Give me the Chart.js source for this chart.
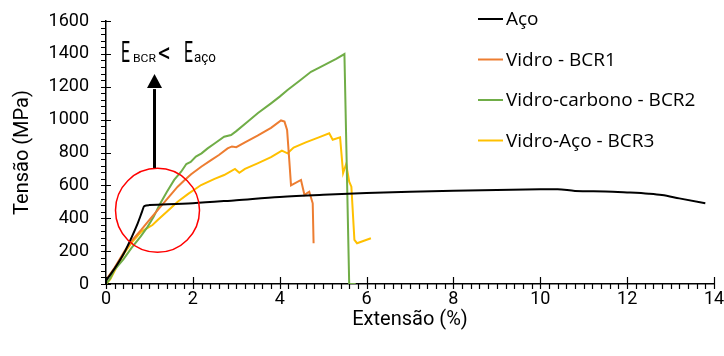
<!DOCTYPE html>
<html>
<head>
<meta charset="utf-8">
<script src="https://cdn.jsdelivr.net/npm/chart.js@4"></script>
<style>
  html, body { margin: 0; padding: 0; background: #fff; }
</style>
</head>
<body>
<canvas id="chart" width="724" height="356"></canvas>
<script>
// Aço
const acoX = [0, 0.2, 0.42, 0.6, 0.73, 0.83, 0.88, 1.0, 2, 3, 4, 5, 6, 7, 8, 9, 10, 10.4, 10.8, 11.5, 12, 12.5, 12.8, 13.2, 13.8];
const acoY = [20, 95, 190, 290, 369, 440, 474, 480, 491, 510, 530, 543, 553, 561, 567, 572, 576, 577, 566, 563, 557, 549, 541, 521, 491];

// Vidro - BCR1
const bcr1X = [0, 0.2, 0.42, 0.6, 0.81, 1.0, 1.19, 1.4, 1.65, 1.8, 1.96, 2.2, 2.42, 2.6, 2.8, 2.9, 3.0, 3.2, 3.49, 3.8, 4.03, 4.11, 4.17, 4.22, 4.26, 4.49, 4.57, 4.64, 4.68, 4.76, 4.78];
const bcr1Y = [25, 100, 197, 265, 329, 390, 450, 515, 592, 630, 668, 715, 754, 785, 825, 837, 832, 862, 903, 950, 995, 988, 937, 754, 600, 633, 541, 555, 561, 491, 248];

// Vidro-carbono - BCR2
const bcr2X = [0, 0.1, 0.19, 0.4, 0.58, 0.8, 0.96, 1.1, 1.23, 1.4, 1.57, 1.73, 1.85, 1.95, 2.07, 2.2, 2.34, 2.5, 2.72, 2.88, 3.0, 3.26, 3.5, 3.8, 4.0, 4.18, 4.45, 4.72, 4.9, 5.1, 5.3, 5.49, 5.6, 5.75];
const bcr2Y = [0, 35, 85, 150, 217, 290, 349, 410, 481, 560, 633, 683, 730, 742, 775, 795, 825, 855, 896, 906, 930, 987, 1040, 1099, 1140, 1180, 1235, 1291, 1315, 1342, 1370, 1399, 0, 0];

// Vidro-Aço - BCR3
const bcr3X = [0, 0.1, 0.2, 0.42, 0.6, 0.81, 0.95, 1.07, 1.19, 1.4, 1.65, 1.9, 2.19, 2.5, 2.72, 2.97, 3.07, 3.2, 3.49, 3.8, 4.05, 4.18, 4.32, 4.6, 4.9, 5.14, 5.22, 5.39, 5.46, 5.53, 5.6, 5.65, 5.72, 5.78, 6.1];
const bcr3Y = [0, 30, 80, 187, 255, 318, 340, 359, 389, 440, 501, 550, 602, 640, 663, 700, 677, 700, 734, 772, 812, 795, 830, 862, 892, 917, 878, 892, 675, 730, 622, 592, 268, 248, 278];

const seriesLabels = ['Aço', 'Vidro - BCR1', 'Vidro-carbono - BCR2', 'Vidro-Aço - BCR3'];
const xTickValues = [0, 2, 4, 6, 8, 10, 12, 14];
const yTickValues = [0, 200, 400, 600, 800, 1000, 1200, 1400, 1600];

const toPoints = (xs, ys) => xs.map((x, i) => ({ x: x, y: ys[i] }));

const TICK_FONT = 'Roboto';
const LEGEND_FONT = 'Open Sans';

// minor / major tick marks crossing the axes
const tickMarks = {
    id: 'tickMarks',
    afterDraw(chart) {
        const { ctx, scales: { x, y } } = chart;
        ctx.save();
        ctx.strokeStyle = '#000';
        ctx.lineWidth = 1.2;
        ctx.beginPath();
        for (let i = 0; i <= 70; i++) {
            const px = Math.round(x.getPixelForValue(i * 0.2)) + 0.5;
            if (i % 10 === 0) {
                ctx.moveTo(px, y.bottom - 7);
                ctx.lineTo(px, y.bottom + 5);
            } else {
                ctx.moveTo(px, y.bottom);
                ctx.lineTo(px, y.bottom + 5);
            }
        }
        for (let i = 0; i <= 40; i++) {
            const py = Math.round(y.getPixelForValue(i * 40)) + 0.5;
            if (i % 5 === 0) {
                ctx.moveTo(x.left - 5, py);
                ctx.lineTo(x.left + 5, py);
            } else {
                ctx.moveTo(x.left - 5, py);
                ctx.lineTo(x.left, py);
            }
        }
        ctx.stroke();
        ctx.restore();
    }
};

// red circle, arrow and the E_BCR < E_aço note
const annotations = {
    id: 'annotations',
    afterDatasetsDraw(chart) {
        const { ctx, scales: { x, y } } = chart;
        ctx.save();

        const cx = x.getPixelForValue(1.186);
        const cy = y.getPixelForValue(448);
        ctx.strokeStyle = '#ff0000';
        ctx.lineWidth = 1.5;
        ctx.beginPath();
        ctx.arc(cx, cy, 42, 0, Math.PI * 2);
        ctx.stroke();

        const ax = x.getPixelForValue(1.117);
        const aBottom = y.getPixelForValue(706);
        const aHead = y.getPixelForValue(1192);
        const aTip = y.getPixelForValue(1277);
        ctx.strokeStyle = '#000';
        ctx.fillStyle = '#000';
        ctx.lineWidth = 3;
        ctx.beginPath();
        ctx.moveTo(ax, aBottom);
        ctx.lineTo(ax, aHead + 1);
        ctx.stroke();
        ctx.beginPath();
        ctx.moveTo(ax, aTip);
        ctx.lineTo(ax - 7.5, aHead);
        ctx.lineTo(ax + 7.5, aHead);
        ctx.closePath();
        ctx.fill();

        const tx = x.getPixelForValue(0.345);
        const ty = y.getPixelForValue(1350);
        const pieces = [
            { t: 'E', size: 29, dx: 0, w: 9 },
            { t: 'BCR', size: 11, dx: 12, w: 23 },
            { t: '<', size: 28, dx: 37, w: 13 },
            { t: 'E', size: 29, dx: 63, w: 9 },
            { t: 'aço', size: 14, dx: 73, w: 22 }
        ];
        ctx.textBaseline = 'alphabetic';
        ctx.textAlign = 'left';
        pieces.forEach(p => {
            ctx.font = `${p.size}px ${TICK_FONT}`;
            const m = ctx.measureText(p.t).width;
            ctx.save();
            ctx.translate(tx + p.dx, ty);
            ctx.scale(p.w / m, 1);
            ctx.fillText(p.t, 0, 0);
            ctx.restore();
        });
        ctx.restore();
    }
};

// legend drawn over the plot, top right
const overlayLegend = {
    id: 'overlayLegend',
    afterDraw(chart) {
        const { ctx } = chart;
        ctx.save();
        ctx.font = `19px "${LEGEND_FONT}"`;
        ctx.textBaseline = 'middle';
        ctx.textAlign = 'left';
        chart.data.datasets.forEach((ds, i) => {
            const ly = 19 + i * 40.5;
            ctx.strokeStyle = ds.borderColor;
            ctx.lineWidth = 2;
            ctx.beginPath();
            ctx.moveTo(478, ly);
            ctx.lineTo(503, ly);
            ctx.stroke();
            ctx.fillStyle = '#000';
            ctx.fillText(ds.label, 506, ly + 1);
        });
        ctx.restore();
    }
};

const makeSet = (label, xs, ys, color) => ({
    label: label,
    data: toPoints(xs, ys),
    borderColor: color,
    backgroundColor: color,
    borderWidth: 2,
    pointRadius: 0,
    tension: 0,
    fill: false
});

const datasets = [
    makeSet(seriesLabels[0], acoX, acoY, '#000000'),
    makeSet(seriesLabels[1], bcr1X, bcr1Y, '#ED7D31'),
    makeSet(seriesLabels[2], bcr2X, bcr2Y, '#70AD47'),
    makeSet(seriesLabels[3], bcr3X, bcr3Y, '#FFC000')
];
datasets[0].cubicInterpolationMode = 'monotone';

new Chart(document.getElementById('chart').getContext('2d'), {
    type: 'line',
    data: { datasets: datasets },
    plugins: [tickMarks, annotations, overlayLegend],
    options: {
        responsive: false,
        animation: false,
        devicePixelRatio: 1,
        layout: { padding: { top: 21, right: 10, left: 0, bottom: 0 } },
        plugins: {
            legend: { display: false },
            tooltip: { enabled: false }
        },
        scales: {
            x: {
                type: 'linear',
                min: 0,
                max: 14,
                afterBuildTicks: scale => { scale.ticks = xTickValues.map(v => ({ value: v })); },
                ticks: {
                    color: '#000',
                    padding: 5,
                    maxRotation: 0,
                    callback: v => String(v),
                    font: { family: TICK_FONT, size: 18 }
                },
                grid: { display: false, drawTicks: false },
                border: { display: true, color: '#000', width: 1.5 },
                title: {
                    display: true,
                    text: 'Extensão (%)',
                    color: '#000',
                    font: { family: TICK_FONT, size: 20 },
                    padding: { top: 0, bottom: 24 }
                },
                afterFit: scale => {
                    scale.height = 72;
                    scale.paddingLeft = 0;
                    scale.paddingRight = 0;
                }
            },
            y: {
                type: 'linear',
                min: 0,
                max: 1600,
                afterBuildTicks: scale => { scale.ticks = yTickValues.map(v => ({ value: v })); },
                ticks: {
                    color: '#000',
                    padding: 17,
                    callback: v => String(v),
                    font: { family: TICK_FONT, size: 18 }
                },
                grid: { display: false, drawTicks: false },
                border: { display: true, color: '#000', width: 1.5 },
                title: {
                    display: true,
                    text: 'Tensão (MPa)',
                    color: '#000',
                    font: { family: TICK_FONT, size: 20 },
                    padding: { top: 11, bottom: 0 }
                },
                afterFit: scale => {
                    scale.width = 106;
                    scale.paddingTop = 0;
                    scale.paddingBottom = 0;
                }
            }
        }
    }
});
</script>
</body>
</html>
